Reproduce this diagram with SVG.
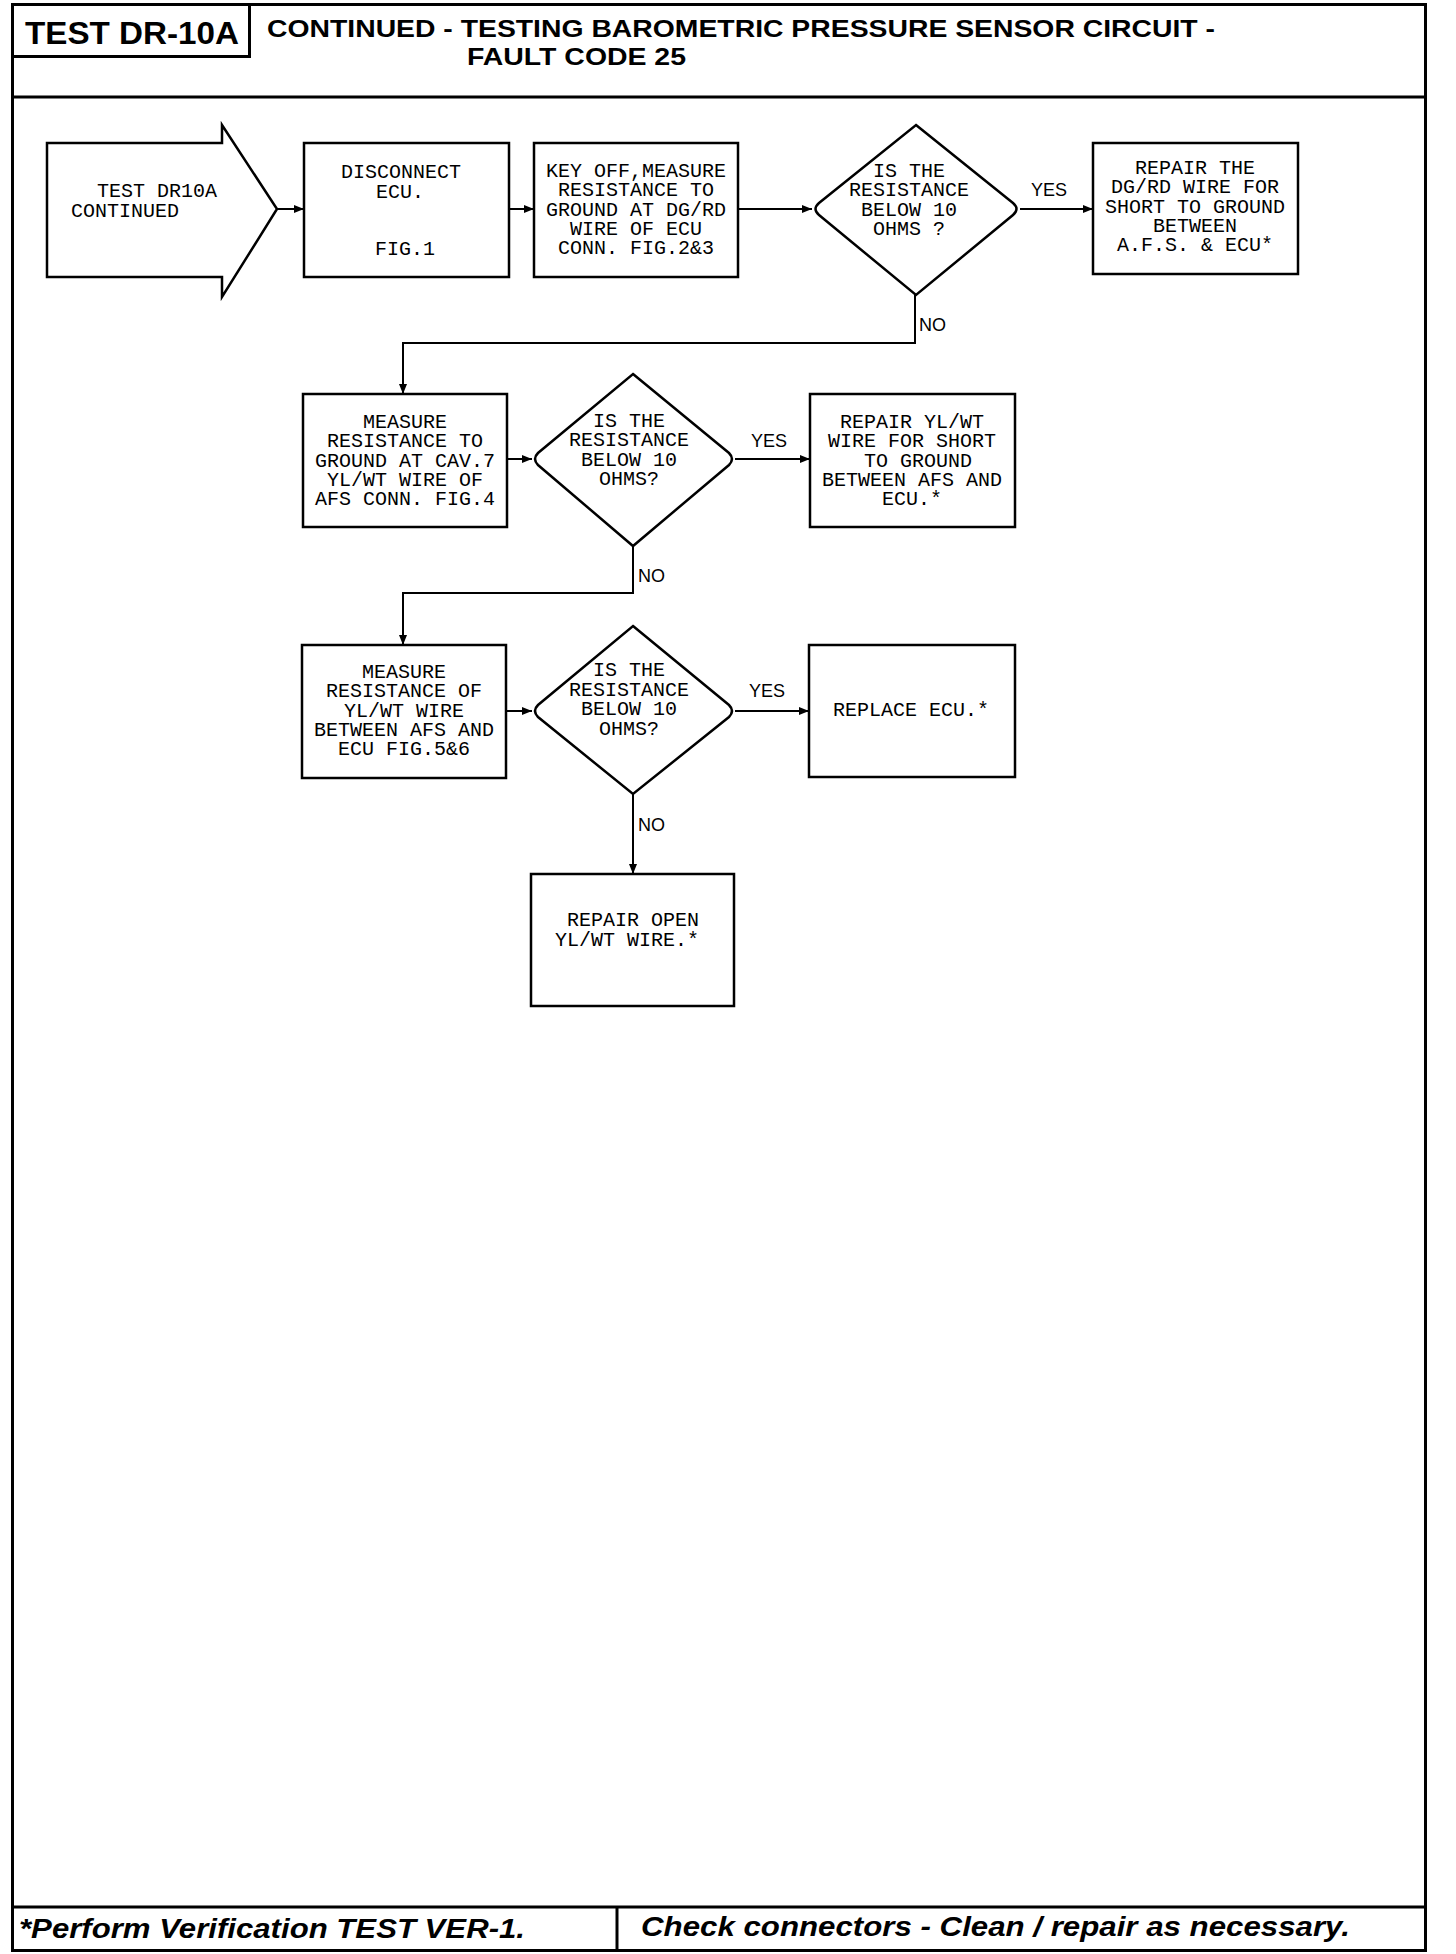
<svg xmlns="http://www.w3.org/2000/svg" width="1456" height="1954" viewBox="0 0 1456 1954">
<style>
.frame{fill:none;stroke:#000;stroke-width:3}
.box{fill:#fff;stroke:#000;stroke-width:2.5}
.conn{fill:none;stroke:#000;stroke-width:2}
.t{font-family:"Liberation Mono",monospace;font-size:20px;fill:#000;text-anchor:middle}
.ts{font-family:"Liberation Mono",monospace;font-size:20px;fill:#000}
.lbl{font-family:"Liberation Sans",sans-serif;font-size:18px;fill:#000}
.hd{font-family:"Liberation Sans",sans-serif;font-weight:bold;fill:#000}
.ft{font-family:"Liberation Sans",sans-serif;font-weight:bold;font-style:italic;font-size:27px;fill:#000}
</style>
<defs>
<marker id="ah" markerWidth="10" markerHeight="8" refX="10" refY="4" orient="auto" markerUnits="userSpaceOnUse">
<path d="M0,0 L10,4 L0,8 Z" fill="#000"/>
</marker>
</defs>
<rect x="0" y="0" width="1456" height="1954" fill="#fff"/>
<g id="frame">
<rect class="frame" x="12.5" y="4.5" width="1413" height="1946"/>
<line class="frame" x1="12.5" y1="97" x2="1425.5" y2="97"/>
<rect class="frame" x="12.5" y="4.5" width="237" height="52"/>
<line class="frame" x1="12.5" y1="1907" x2="1425.5" y2="1907"/>
<line class="frame" x1="617" y1="1907" x2="617" y2="1951"/>
</g>
<g id="header">
<text class="hd" x="25" y="44" font-size="32" textLength="214" lengthAdjust="spacingAndGlyphs">TEST DR-10A</text>
<text class="hd" x="267" y="37" font-size="24" textLength="948" lengthAdjust="spacingAndGlyphs">CONTINUED -  TESTING BAROMETRIC PRESSURE SENSOR CIRCUIT -</text>
<text class="hd" x="467" y="65" font-size="24" textLength="219" lengthAdjust="spacingAndGlyphs">FAULT CODE 25</text>
</g>
<g id="connectors">
<line class="conn" x1="277" y1="209" x2="304" y2="209" marker-end="url(#ah)"/>
<line class="conn" x1="509" y1="209" x2="534" y2="209" marker-end="url(#ah)"/>
<line class="conn" x1="738" y1="209" x2="812" y2="209" marker-end="url(#ah)"/>
<line class="conn" x1="1020" y1="209" x2="1093" y2="209" marker-end="url(#ah)"/>
<polyline class="conn" points="915,295 915,343 403,343 403,394" marker-end="url(#ah)"/>
<line class="conn" x1="507" y1="459" x2="532" y2="459" marker-end="url(#ah)"/>
<line class="conn" x1="735" y1="459" x2="810" y2="459" marker-end="url(#ah)"/>
<polyline class="conn" points="633,546 633,593 403,593 403,645" marker-end="url(#ah)"/>
<line class="conn" x1="506" y1="711" x2="532" y2="711" marker-end="url(#ah)"/>
<line class="conn" x1="735" y1="711" x2="809" y2="711" marker-end="url(#ah)"/>
<line class="conn" x1="633" y1="794" x2="633" y2="874" marker-end="url(#ah)"/>
<text class="lbl" x="1031" y="196">YES</text>
<text class="lbl" x="919" y="331">NO</text>
<text class="lbl" x="751" y="447">YES</text>
<text class="lbl" x="638" y="582">NO</text>
<text class="lbl" x="749" y="697">YES</text>
<text class="lbl" x="638" y="831">NO</text>
</g>
<g id="start">
<path class="box" d="M47,143 L222,143 L222,125 L277,209 L222,297 L222,277 L47,277 Z"/>
<text class="ts" x="97" y="197">TEST DR10A<tspan x="71" dy="20">CONTINUED</tspan></text>
</g>
<g id="disconnect">
<rect class="box" x="304" y="143" width="205" height="134"/>
<text class="t" x="401" y="178">DISCONNECT<tspan x="400" dy="20">ECU.</tspan><tspan x="405" dy="57">FIG.1</tspan></text>
</g>
<g id="keyoff">
<rect class="box" x="534" y="143" width="204" height="134"/>
<text class="t" x="636" y="177">KEY OFF,MEASURE<tspan x="636" dy="19.3">RESISTANCE TO</tspan><tspan x="636" dy="19.3">GROUND AT DG/RD</tspan><tspan x="636" dy="19.3">WIRE OF ECU</tspan><tspan x="636" dy="19.3">CONN. FIG.2&amp;3</tspan></text>
</g>
<g id="decision1">
<path class="box" d="M916,125 L1013,203 Q1020,209 1013,215 L916,295 L819,215 Q812,209 819,203 Z"/>
<text class="t" x="909" y="177">IS THE<tspan x="909" dy="19.3">RESISTANCE</tspan><tspan x="909" dy="19.3">BELOW 10</tspan><tspan x="909" dy="19.3">OHMS ?</tspan></text>
</g>
<g id="repair-dgrd">
<rect class="box" x="1093" y="143" width="205" height="131"/>
<text class="t" x="1195" y="174">REPAIR THE<tspan x="1195" dy="19.3">DG/RD WIRE FOR</tspan><tspan x="1195" dy="19.3">SHORT TO GROUND</tspan><tspan x="1195" dy="19.3">BETWEEN</tspan><tspan x="1195" dy="19.3">A.F.S. &amp; ECU*</tspan></text>
</g>
<g id="measure-cav7">
<rect class="box" x="303" y="394" width="204" height="133"/>
<text class="t" x="405" y="428">MEASURE<tspan x="405" dy="19.3">RESISTANCE TO</tspan><tspan x="405" dy="19.3">GROUND AT CAV.7</tspan><tspan x="405" dy="19.3">YL/WT WIRE OF</tspan><tspan x="405" dy="19.3">AFS CONN. FIG.4</tspan></text>
</g>
<g id="decision2">
<path class="box" d="M633,374 L729,453 Q735,459 729,465 L633,546 L538,465 Q532,459 538,453 Z"/>
<text class="t" x="629" y="427">IS THE<tspan x="629" dy="19.3">RESISTANCE</tspan><tspan x="629" dy="19.3">BELOW 10</tspan><tspan x="629" dy="19.3">OHMS?</tspan></text>
</g>
<g id="repair-ylwt-short">
<rect class="box" x="810" y="394" width="205" height="133"/>
<text class="t" x="912" y="428">REPAIR YL/WT<tspan x="912" dy="19.3">WIRE FOR SHORT</tspan><tspan x="918" dy="19.3">TO GROUND</tspan><tspan x="912" dy="19.3">BETWEEN AFS AND</tspan><tspan x="912" dy="19.3">ECU.*</tspan></text>
</g>
<g id="measure-ylwt">
<rect class="box" x="302" y="645" width="204" height="133"/>
<text class="t" x="404" y="678">MEASURE<tspan x="404" dy="19.3">RESISTANCE OF</tspan><tspan x="404" dy="19.3">YL/WT WIRE</tspan><tspan x="404" dy="19.3">BETWEEN AFS AND</tspan><tspan x="404" dy="19.3">ECU FIG.5&amp;6</tspan></text>
</g>
<g id="decision3">
<path class="box" d="M633,626 L729,705 Q735,711 729,717 L633,794 L538,717 Q532,711 538,705 Z"/>
<text class="t" x="629" y="676">IS THE<tspan x="629" dy="19.5">RESISTANCE</tspan><tspan x="629" dy="19.5">BELOW 10</tspan><tspan x="629" dy="19.5">OHMS?</tspan></text>
</g>
<g id="replace-ecu">
<rect class="box" x="809" y="645" width="206" height="132"/>
<text class="t" x="911" y="716">REPLACE ECU.*</text>
</g>
<g id="repair-open">
<rect class="box" x="531" y="874" width="203" height="132"/>
<text class="t" x="633" y="926">REPAIR OPEN<tspan x="627" dy="20">YL/WT WIRE.*</tspan></text>
</g>
<g id="footer">
<text class="ft" x="19" y="1938" textLength="506" lengthAdjust="spacingAndGlyphs">*Perform Verification TEST VER-1.</text>
<text class="ft" x="641" y="1936" textLength="709" lengthAdjust="spacingAndGlyphs">Check connectors - Clean / repair as necessary.</text>
</g>
</svg>
